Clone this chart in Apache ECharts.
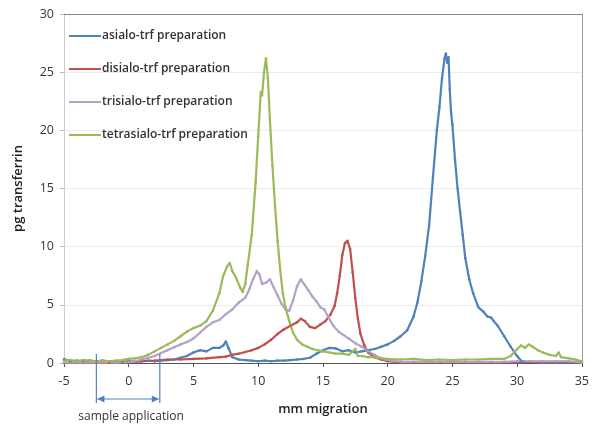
<!DOCTYPE html>
<html><head><meta charset="utf-8">
<script src="https://cdn.jsdelivr.net/npm/echarts@6/dist/echarts.min.js"></script>
<style>html,body{margin:0;padding:0;background:#fff}#c{width:592px;height:427px}</style>
</head><body><div id="c"></div>
<script>
var seriesNames = ['asialo-trf preparation','disialo-trf preparation','trisialo-trf preparation','tetrasialo-trf preparation'];
var xTicks = [-5,0,5,10,15,20,25,30,35];
var yTicks = [0,5,10,15,20,25,30];
var annotationText = 'sample application';
var annotationRange = [-2.5, 2.4];

var asialo = [[-5,0.35],[-4.5,0.15],[-4,0.2],[-3.5,0.15],[-3,0.2],[-2.5,0.15],[-2,0.2],[-1.5,0.1],[-1,0.15],[-0.5,0.1],[0,0.15],[0.5,0.1],[1,0.15],[1.5,0.2],[2,0.15],[2.5,0.2],[3,0.25],[3.5,0.3],[4,0.45],[4.5,0.6],[5,0.9],[5.5,1.1],[6,1.0],[6.5,1.3],[7,1.3],[7.3,1.5],[7.5,1.85],[7.7,1.3],[8,0.5],[8.5,0.3],[9,0.25],[9.5,0.2],[10,0.15],[10.5,0.2],[11,0.15],[11.5,0.2],[12,0.2],[12.5,0.25],[13,0.3],[13.5,0.35],[14,0.45],[14.5,0.8],[15,1.1],[15.5,1.3],[16,1.25],[16.5,1.0],[17,1.1],[17.5,0.9],[18,1.0],[18.5,1.1],[19,1.2],[19.5,1.4],[20,1.6],[20.5,1.9],[21,2.3],[21.5,2.8],[22,4.0],[22.3,5.2],[22.6,7.0],[22.9,9.2],[23.2,11.8],[23.5,16.0],[23.8,20.0],[24.0,22.0],[24.2,24.5],[24.4,26.2],[24.5,26.6],[24.6,25.8],[24.7,26.3],[24.8,23.5],[24.9,21.5],[25.0,20.5],[25.2,17.5],[25.4,15.0],[25.6,13.0],[25.8,11.0],[26.0,9.0],[26.3,7.2],[26.6,6.0],[27.0,4.8],[27.4,4.4],[27.7,4.0],[28.0,3.9],[28.2,3.6],[28.5,3.2],[29,2.3],[29.5,1.4],[30,0.6],[30.3,0.2],[30.5,0.1],[31,0.1],[32,0.05],[33,0.05],[34,0.05],[35,0.05]];

var disialo = [[-5,0],[-4,0],[-3,0],[-2,0],[-1.5,0.02],[-1,0.05],[0,0.1],[1,0.15],[2,0.2],[3,0.3],[4,0.3],[5,0.35],[6,0.4],[7,0.5],[7.5,0.55],[8,0.7],[8.5,0.8],[9,0.95],[9.5,1.1],[10,1.3],[10.5,1.6],[11,2.0],[11.5,2.5],[12,2.9],[12.5,3.2],[13,3.5],[13.3,3.8],[13.6,3.6],[14,3.1],[14.4,3.0],[14.8,3.3],[15.2,3.6],[15.6,4.2],[15.9,4.9],[16.1,6.0],[16.3,7.5],[16.5,9.3],[16.7,10.3],[16.9,10.5],[17.1,9.8],[17.3,7.8],[17.5,5.6],[17.7,3.8],[17.9,2.5],[18.2,1.5],[18.5,0.9],[19,0.5],[19.5,0.3],[20,0.15],[21,0.05],[22,0.05],[23,0.05],[24,0.05],[25,0.05],[26,0.05],[27,0.05],[28,0.05],[29,0.05],[30,0.08],[31,0.1],[32,0.1],[33,0.1],[34,0.1],[35,0.05]];

var trisialo = [[-5,0.05],[-4,0.05],[-3,0.05],[-2,0.05],[-1,0.05],[0,0.08],[0.5,0.15],[1,0.3],[1.5,0.45],[2,0.6],[2.5,0.85],[3,1.1],[3.5,1.35],[4,1.6],[4.5,1.8],[5,2.1],[5.5,2.6],[6,3.1],[6.5,3.5],[7,3.7],[7.5,4.2],[8,4.6],[8.5,5.2],[9,5.6],[9.3,6.3],[9.6,7.2],[9.9,7.9],[10.1,7.6],[10.3,6.8],[10.6,6.9],[10.9,7.2],[11.2,6.5],[11.5,5.8],[11.8,5.1],[12.1,4.6],[12.4,4.5],[12.7,5.4],[13,6.6],[13.3,7.2],[13.6,6.7],[13.9,6.2],[14.2,5.7],[14.5,5.3],[14.8,4.8],[15.1,4.6],[15.4,4.0],[15.8,3.2],[16.2,2.7],[16.6,2.4],[17,2.1],[17.5,1.7],[18,1.4],[18.5,1.0],[19,0.7],[19.5,0.4],[20,0.25],[21,0.1],[22,0.1],[23,0.1],[24,0.1],[25,0.1],[26,0.1],[27,0.1],[28,0.1],[29,0.1],[30,0.15],[31,0.15],[32,0.15],[33,0.15],[34,0.15],[35,0.05]];

var tetrasialo = [[-5,0.2],[-4.5,0.25],[-4,0.15],[-3.5,0.25],[-3,0.2],[-2.5,0.15],[-2,0.2],[-1.5,0.15],[-1,0.2],[-0.5,0.25],[0,0.35],[0.5,0.4],[1,0.5],[1.5,0.7],[2,1.0],[2.5,1.3],[3,1.6],[3.5,1.9],[4,2.3],[4.5,2.7],[5,3.0],[5.5,3.2],[6,3.6],[6.5,4.5],[7,6.0],[7.3,7.5],[7.6,8.3],[7.8,8.6],[8.0,7.9],[8.3,7.3],[8.6,6.5],[8.8,6.1],[9.0,6.8],[9.2,8.5],[9.5,11.0],[9.8,15.5],[10.0,19.5],[10.2,23.3],[10.3,23.0],[10.45,25.0],[10.6,26.2],[10.75,24.5],[10.9,21.0],[11.1,17.0],[11.3,13.5],[11.5,10.5],[11.7,8.0],[11.9,6.0],[12.1,4.8],[12.4,3.6],[12.7,2.6],[13.0,2.0],[13.4,1.6],[13.8,1.4],[14.2,1.2],[14.6,1.1],[15,1.0],[15.5,0.9],[16,0.8],[16.5,0.8],[17,0.7],[17.5,1.2],[17.7,0.6],[18,0.6],[18.5,0.5],[19,0.5],[19.5,0.4],[20,0.35],[21,0.3],[22,0.35],[23,0.25],[24,0.3],[25,0.25],[26,0.3],[27,0.3],[28,0.35],[29,0.35],[29.5,0.6],[30,1.2],[30.3,1.5],[30.6,1.3],[30.9,1.6],[31.2,1.4],[31.6,1.1],[32,0.9],[32.5,0.7],[33,0.6],[33.2,0.9],[33.4,0.5],[34,0.4],[34.5,0.3],[35,0.15]];

var colors = ['#4F81BD','#C0504D','#B3A2C7','#9BBB59'];
var allData = [asialo, disialo, trisialo, tetrasialo];

var chart = echarts.init(document.getElementById('c'), null, {renderer:'canvas'});
var FONT = '"Open Sans", sans-serif';
var xMin = xTicks[0], xMax = xTicks[xTicks.length-1];
var yMin = yTicks[0], yMax = yTicks[yTicks.length-1];
var option = {
  animation: false,
  backgroundColor: '#fff',
  color: colors,
  grid: {left: 64, right: 8, top: 14, bottom: 64, show: false},
  legend: {
    data: seriesNames.map(function(n){return {name:n, icon:'rect'};}),
    orient: 'vertical', left: 64, top: 25, itemGap: 21,
    itemWidth: 32, itemHeight: 2,
    textStyle: {fontFamily: FONT, fontSize: 12, color: '#333', fontWeight: 600, padding: [0,0,0,-4]}
  },
  xAxis: [{
    type: 'value', min: xMin, max: xMax, interval: 5,
    name: 'mm migration', nameLocation: 'middle', nameGap: 40,
    nameTextStyle: {fontFamily: FONT, fontSize: 13, color: '#222', fontWeight: 600},
    axisLine: {show: true, onZero: false, lineStyle: {color: '#555'}},
    axisTick: {show: true, length: 4, lineStyle: {color: '#555'}},
    axisLabel: {fontFamily: FONT, fontSize: 12.5, color: '#333', margin: 12},
    splitLine: {show: false}
  },{
    type: 'value', position: 'top', min: xMin, max: xMax, interval: 5,
    axisLine: {show: true, onZero: false, lineStyle: {color: '#888'}},
    axisTick: {show: false}, axisLabel: {show: false}, splitLine: {show: false}
  }],
  yAxis: [{
    type: 'value', min: yMin, max: yMax, interval: 5,
    name: 'pg transferrin', nameLocation: 'middle', nameGap: 39,
    nameTextStyle: {fontFamily: FONT, fontSize: 13, color: '#222', fontWeight: 600},
    axisLine: {show: true, onZero: false, lineStyle: {color: '#ccc'}},
    axisTick: {show: true, length: 4, lineStyle: {color: '#bbb'}},
    axisLabel: {fontFamily: FONT, fontSize: 12.5, color: '#333', margin: 10},
    splitLine: {show: true, lineStyle: {color: '#ececec'}}
  },{
    type: 'value', position: 'right', min: yMin, max: yMax, interval: 5,
    axisLine: {show: true, onZero: false, lineStyle: {color: '#999'}},
    axisTick: {show: false}, axisLabel: {show: false}, splitLine: {show: false}
  }],
  series: seriesNames.map(function(n, i){
    return {
      name: n, type: 'line', data: allData[i], xAxisIndex: 0, yAxisIndex: 0,
      symbol: 'circle', symbolSize: 2.5, showSymbol: true,
      lineStyle: {width: 2.2, color: colors[i]},
      itemStyle: {color: colors[i]}
    };
  })
};
chart.setOption(option);

var y0 = chart.convertToPixel({xAxisIndex:0, yAxisIndex:0}, [0,0])[1];
var pL = chart.convertToPixel({xAxisIndex:0, yAxisIndex:0}, [annotationRange[0],0]);
var pR = chart.convertToPixel({xAxisIndex:0, yAxisIndex:0}, [annotationRange[1],0]);
var lineTop = y0 - 9, lineBot = y0 + 40, arrowY = y0 + 36;
var ac = '#4F81BD';
chart.setOption({
  graphic: [
    {type:'line', shape:{x1:pL[0],y1:lineTop,x2:pL[0],y2:lineBot}, style:{stroke:ac, lineWidth:1.2}, z:100},
    {type:'line', shape:{x1:pR[0],y1:lineTop,x2:pR[0],y2:lineBot}, style:{stroke:ac, lineWidth:1.2}, z:100},
    {type:'line', shape:{x1:pL[0]+1,y1:arrowY,x2:pR[0]-1,y2:arrowY}, style:{stroke:ac, lineWidth:1.2}, z:100},
    {type:'polygon', shape:{points:[[pL[0]+1,arrowY],[pL[0]+8,arrowY-3.5],[pL[0]+8,arrowY+3.5]]}, style:{fill:ac}, z:100},
    {type:'polygon', shape:{points:[[pR[0]-1,arrowY],[pR[0]-8,arrowY-3.5],[pR[0]-8,arrowY+3.5]]}, style:{fill:ac}, z:100},
    {type:'text', x:(pL[0]+pR[0])/2+3, y:y0+54, style:{text:annotationText, fill:'#333', font:'500 12px "Open Sans", sans-serif', align:'center', verticalAlign:'middle'}, z:100}
  ]
});
</script></body></html>
